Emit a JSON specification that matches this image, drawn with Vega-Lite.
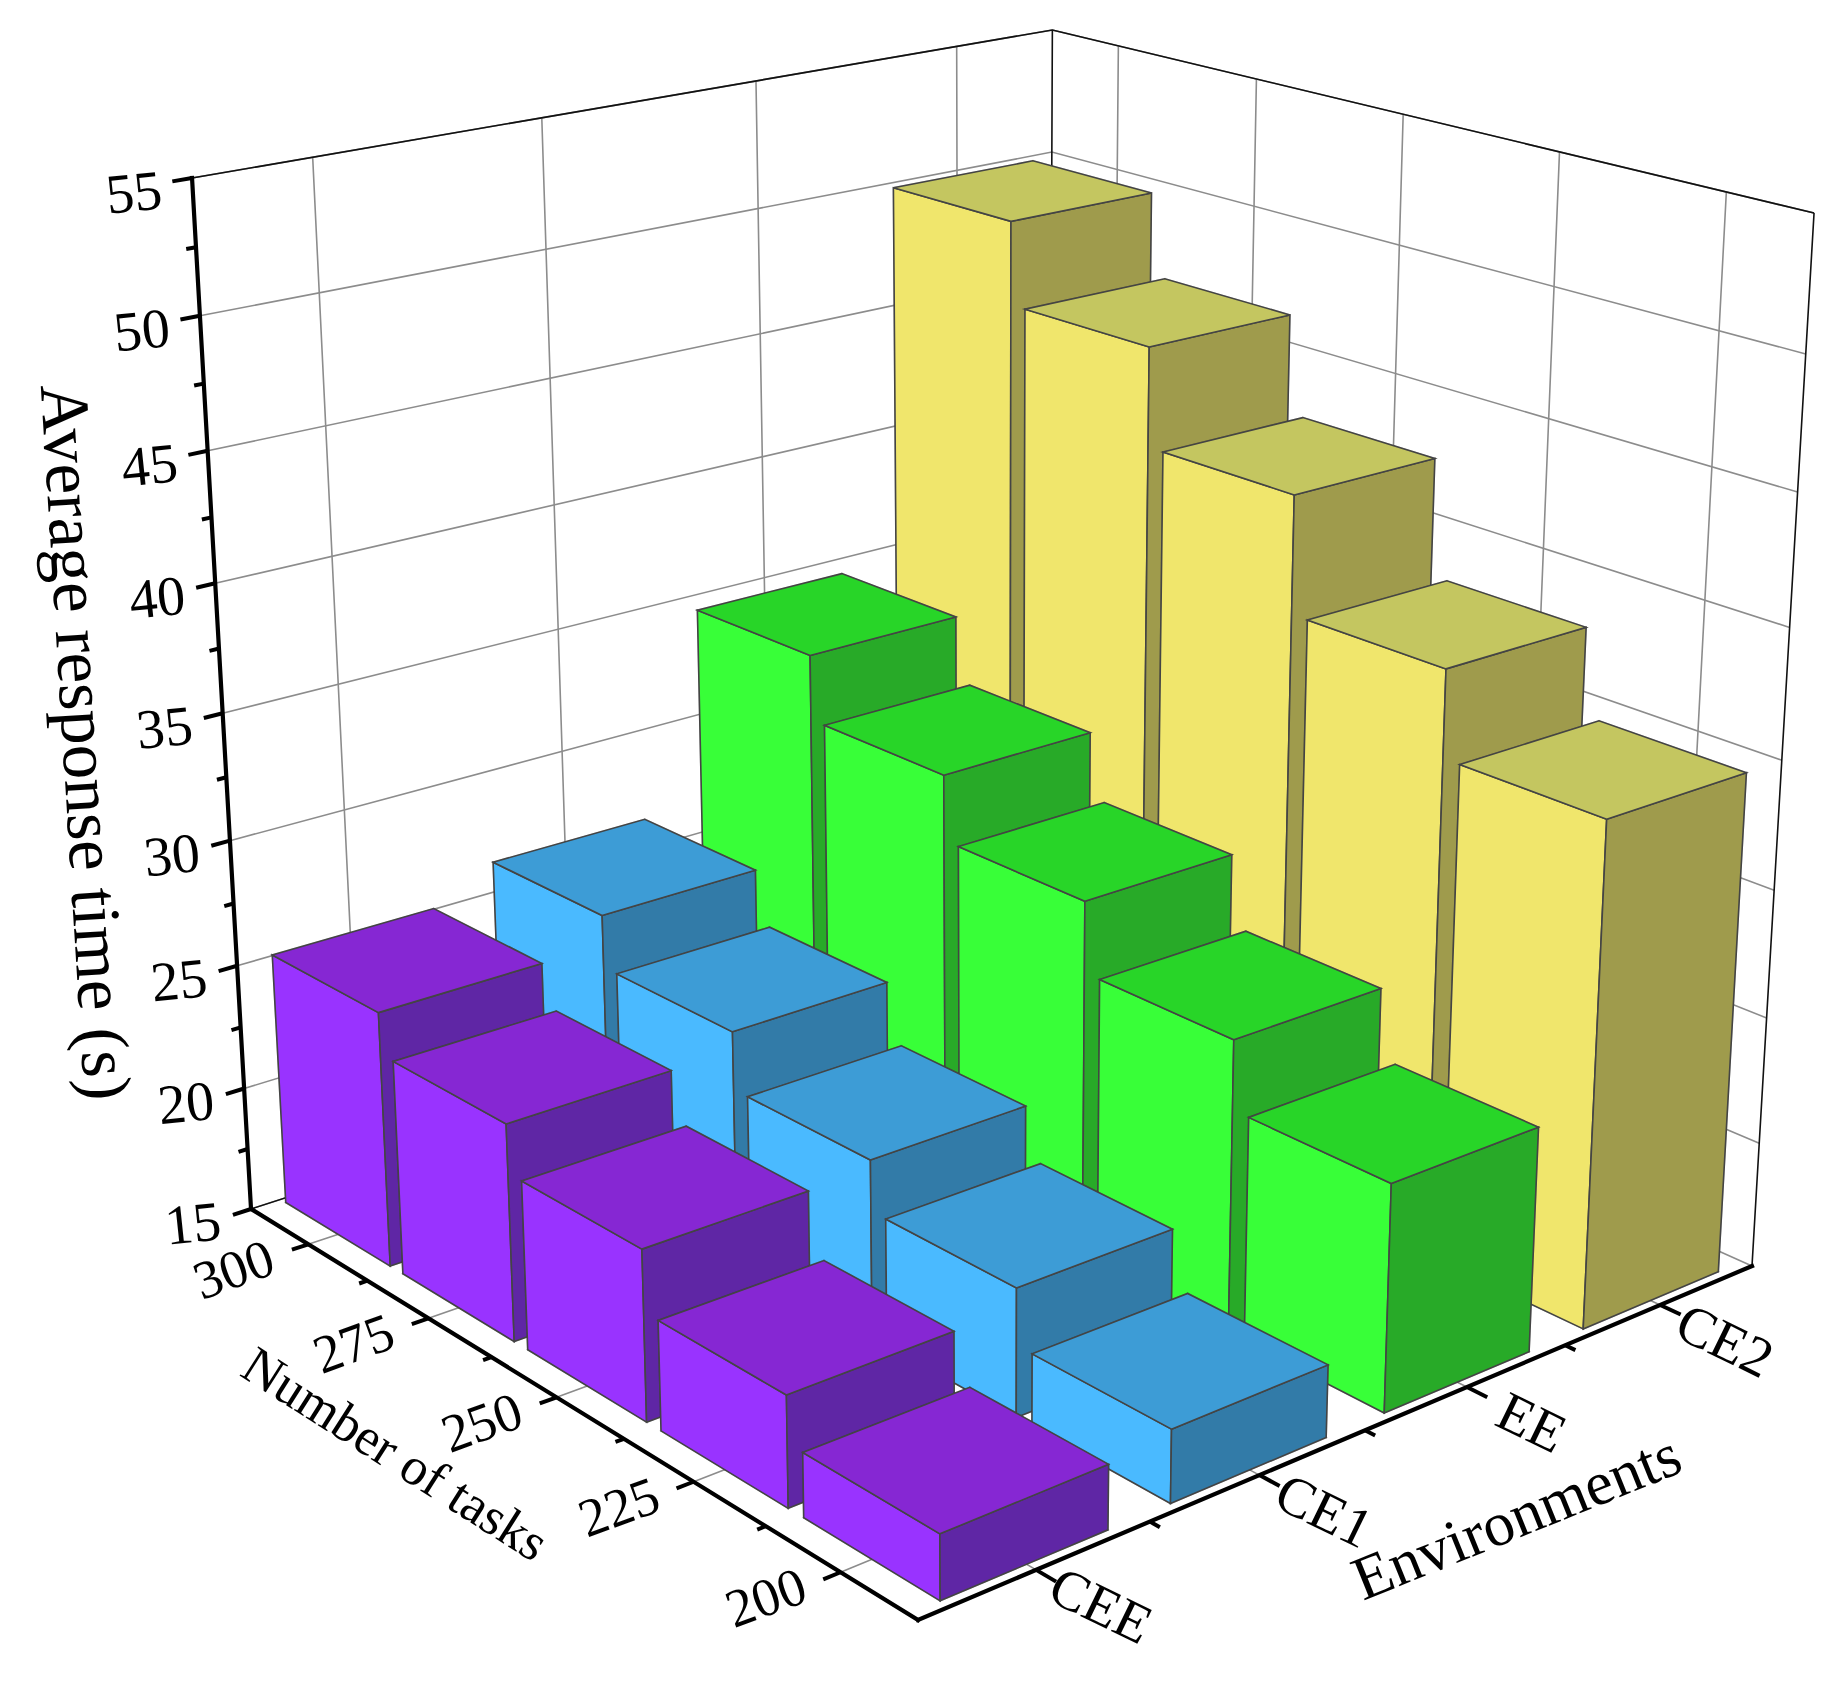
{"$schema":"https://vega.github.io/schema/vega-lite/v6.json","width":1846,"height":1685,"padding":0,"autosize":{"type":"none"},"background":"white","config":{"view":{"stroke":null},"text":{"font":"Liberation Serif","fill":"#000"}},
"datasets":{
"bars":[
{"env":"CE2","tasks":300,"time":49.9},{"env":"CE2","tasks":275,"time":46.6},{"env":"CE2","tasks":250,"time":42.7},{"env":"CE2","tasks":225,"time":38.1},{"env":"CE2","tasks":200,"time":34.7},
{"env":"EE","tasks":300,"time":34.5},{"env":"EE","tasks":275,"time":31.9},{"env":"EE","tasks":250,"time":29.3},{"env":"EE","tasks":225,"time":26.5},{"env":"EE","tasks":200,"time":23.8},
{"env":"CE1","tasks":300,"time":26.4},{"env":"CE1","tasks":275,"time":24.3},{"env":"CE1","tasks":250,"time":22.0},{"env":"CE1","tasks":225,"time":20.0},{"env":"CE1","tasks":200,"time":17.8},
{"env":"CEE","tasks":300,"time":25.2},{"env":"CEE","tasks":275,"time":23.55},{"env":"CEE","tasks":250,"time":21.64},{"env":"CEE","tasks":225,"time":19.25},{"env":"CEE","tasks":200,"time":17.45}],
"ticks":[
{"axis":"time","tick":15,"label":"15","major":true},{"axis":"time","tick":17.5,"major":false},{"axis":"time","tick":20,"label":"20","major":true},{"axis":"time","tick":22.5,"major":false},{"axis":"time","tick":25,"label":"25","major":true},{"axis":"time","tick":27.5,"major":false},{"axis":"time","tick":30,"label":"30","major":true},{"axis":"time","tick":32.5,"major":false},{"axis":"time","tick":35,"label":"35","major":true},{"axis":"time","tick":37.5,"major":false},{"axis":"time","tick":40,"label":"40","major":true},{"axis":"time","tick":42.5,"major":false},{"axis":"time","tick":45,"label":"45","major":true},{"axis":"time","tick":47.5,"major":false},{"axis":"time","tick":50,"label":"50","major":true},{"axis":"time","tick":52.5,"major":false},{"axis":"time","tick":55,"label":"55","major":true},
{"axis":"tasks","tick":200,"label":"200","major":true},{"axis":"tasks","tick":212.5,"major":false},{"axis":"tasks","tick":225,"label":"225","major":true},{"axis":"tasks","tick":237.5,"major":false},{"axis":"tasks","tick":250,"label":"250","major":true},{"axis":"tasks","tick":262.5,"major":false},{"axis":"tasks","tick":275,"label":"275","major":true},{"axis":"tasks","tick":287.5,"major":false},{"axis":"tasks","tick":300,"label":"300","major":true},
{"axis":"env","tick":0,"label":"CEE","major":true},{"axis":"env","tick":0.5,"major":false},{"axis":"env","tick":1,"label":"CE1","major":true},{"axis":"env","tick":1.5,"major":false},{"axis":"env","tick":2,"label":"EE","major":true},{"axis":"env","tick":2.5,"major":false},{"axis":"env","tick":3,"label":"CE2","major":true}],
"frame":[{"axis":"time","tick":55},{"axis":"tasks","tick":312.5},{"axis":"tasks","tick":187.5}],
"axes":[{"axis":"env","tick":-0.5},{"axis":"tasks","tick":187.5}]
},
"layer":[
{"data":{"name":"ticks"},"transform":[{"filter":"datum.major"},
{"calculate":"[0,1,2]","as":"p"},{"flatten":["p"]},
{"calculate":"datum.axis=='env'?(datum.tick+0.5)/4:(datum.p==0?0:1)","as":"a"},
{"calculate":"datum.axis=='env'?(datum.p==0?0:1):datum.axis=='tasks'?(datum.tick-187.5)/125:(datum.p==2?0:1)","as":"b"},
{"calculate":"datum.axis=='time'?(datum.tick-15)/40:(datum.p==2?1:0)","as":"c"},
{"calculate":"(918+1105.9*datum.a-621.1*datum.b-86.5*datum.c)/(1+0.1552*datum.a+0.1828*datum.b-0.0872*datum.c)","as":"X"},
{"calculate":"(1620-157.5*datum.a-190*datum.b-1235*datum.c)/(1+0.1552*datum.a+0.1828*datum.b-0.0872*datum.c)","as":"Y"}],
"mark":{"type":"line","stroke":"#8C8C8C","strokeWidth":1.6},
"encoding":{"x":{"field":"X","type":"quantitative","scale":{"domain":[0,1846],"nice":false,"zero":false},"axis":null},"y":{"field":"Y","type":"quantitative","scale":{"domain":[1685,0],"nice":false,"zero":false},"axis":null},"detail":[{"field":"axis","type":"nominal"},{"field":"tick","type":"nominal"}],"order":{"field":"p","type":"quantitative"}}},
{"data":{"name":"frame"},"transform":[
{"calculate":"[0,1,2]","as":"p"},{"flatten":["p"]},
{"calculate":"datum.axis=='env'?(datum.tick+0.5)/4:(datum.p==0?0:1)","as":"a"},
{"calculate":"datum.axis=='env'?(datum.p==0?0:1):datum.axis=='tasks'?(datum.tick-187.5)/125:(datum.p==2?0:1)","as":"b"},
{"calculate":"datum.axis=='time'?(datum.tick-15)/40:(datum.p==2?1:0)","as":"c"},
{"calculate":"(918+1105.9*datum.a-621.1*datum.b-86.5*datum.c)/(1+0.1552*datum.a+0.1828*datum.b-0.0872*datum.c)","as":"X"},
{"calculate":"(1620-157.5*datum.a-190*datum.b-1235*datum.c)/(1+0.1552*datum.a+0.1828*datum.b-0.0872*datum.c)","as":"Y"}],
"mark":{"type":"line","stroke":"#111111","strokeWidth":1.6},
"encoding":{"x":{"field":"X","type":"quantitative","axis":null},"y":{"field":"Y","type":"quantitative","axis":null},"detail":[{"field":"axis","type":"nominal"},{"field":"tick","type":"nominal"}],"order":{"field":"p","type":"quantitative"}}},
{"data":{"name":"bars"},"transform":[
{"calculate":"[[0,0,1,0,0],[0,1,1,1,0],[0,2,1,1,1],[0,3,1,0,1],[1,0,0,1,0],[1,1,1,1,0],[1,2,1,1,1],[1,3,0,1,1],[2,0,0,0,0],[2,1,1,0,0],[2,2,1,1,0],[2,3,0,1,0],[3,0,0,0,0],[3,1,0,1,0],[3,2,0,1,1],[3,3,0,0,1],[4,0,0,0,0],[4,1,1,0,0],[4,2,1,0,1],[4,3,0,0,1],[5,0,0,0,1],[5,1,1,0,1],[5,2,1,1,1],[5,3,0,1,1]]","as":"v"},{"flatten":["v"]},
{"calculate":"['backA','backB','bottom','left','right','top'][datum.v[0]]","as":"face"},
{"calculate":"datum.env+'|'+datum.face","as":"shade"},
{"calculate":"datum.env+'|'+datum.tasks+'|'+datum.v[0]","as":"poly"},
{"calculate":"datum.v[1]","as":"corner"},
{"calculate":"(indexof(['CEE','CE1','EE','CE2'],datum.env)+0.5)*0.251-0.002+(datum.v[2]*2-1)*0.0905","as":"a"},
{"calculate":"(datum.tasks-187.5)/125+0.0015+(datum.v[3]*2-1)*0.0895","as":"b"},
{"calculate":"datum.v[4]*(datum.time-15)/40","as":"c"},
{"calculate":"(918+1105.9*datum.a-621.1*datum.b-86.5*datum.c)/(1+0.1552*datum.a+0.1828*datum.b-0.0872*datum.c)","as":"X"},
{"calculate":"(1620-157.5*datum.a-190*datum.b-1235*datum.c)/(1+0.1552*datum.a+0.1828*datum.b-0.0872*datum.c)","as":"Y"}],
"mark":{"type":"line","interpolate":"linear-closed","strokeWidth":1.6,"strokeJoin":"miter"},
"encoding":{"x":{"field":"X","type":"quantitative","axis":null},"y":{"field":"Y","type":"quantitative","axis":null},
"detail":{"field":"poly","type":"nominal"},"order":{"field":"corner","type":"quantitative"},
"fill":{"field":"shade","type":"nominal","legend":null,"scale":{"domain":["CEE|backA","CEE|backB","CEE|bottom","CEE|left","CEE|right","CEE|top","CE1|backA","CE1|backB","CE1|bottom","CE1|left","CE1|right","CE1|top","EE|backA","EE|backB","EE|bottom","EE|left","EE|right","EE|top","CE2|backA","CE2|backB","CE2|bottom","CE2|left","CE2|right","CE2|top"],"range":["#5F26A5","#5C0B84","#3A0C70","#9933FF","#5F26A5","#8627D3","#327BA8","#2B608D","#1C5078","#4ABAFF","#327BA8","#3D9CD6","#28AA28","#178917","#0A820A","#38FF38","#28AA28","#28D528","#9F9B4C","#9C6217","#825F19","#F0E66C","#9F9B4C","#C4C660"]}},
"stroke":{"field":"face","type":"nominal","legend":null,"scale":{"domain":["backA","backB","bottom","left","right","top"],"range":["rgba(0,0,0,0.2)","rgba(0,0,0,0.2)","rgba(0,0,0,0.25)","#444444","#444444","#444444"]}},
"opacity":{"field":"face","type":"nominal","legend":null,"scale":{"domain":["backA","backB","bottom","left","right","top"],"range":[1,1,1,1,0.7,0.7]}}}},
{"data":{"name":"axes"},"transform":[
{"calculate":"[0,1,2]","as":"p"},{"flatten":["p"]},{"filter":"datum.axis=='env'||datum.p<2"},
{"calculate":"datum.axis=='env'?(datum.tick+0.5)/4:(datum.p==0?0:1)","as":"a"},
{"calculate":"datum.axis=='env'?(datum.p==0?0:1):(datum.tick-187.5)/125","as":"b"},
{"calculate":"datum.axis=='env'&&datum.p==2?1:0","as":"c"},
{"calculate":"(918+1105.9*datum.a-621.1*datum.b-86.5*datum.c)/(1+0.1552*datum.a+0.1828*datum.b-0.0872*datum.c)","as":"X"},
{"calculate":"(1620-157.5*datum.a-190*datum.b-1235*datum.c)/(1+0.1552*datum.a+0.1828*datum.b-0.0872*datum.c)","as":"Y"}],
"mark":{"type":"line","stroke":"#000","strokeWidth":4.2,"strokeCap":"square"},
"encoding":{"x":{"field":"X","type":"quantitative","axis":null},"y":{"field":"Y","type":"quantitative","axis":null},"detail":{"field":"axis","type":"nominal"},"order":{"field":"p","type":"quantitative"}}},
{"data":{"name":"ticks"},"transform":[
{"calculate":"[0,1]","as":"p"},{"flatten":["p"]},
{"calculate":"datum.major?1:0.5","as":"len"},
{"calculate":"datum.axis=='env'?(datum.tick+0.5)/4:(datum.axis=='time'?-0.02:-0.018)*datum.p*datum.len","as":"a"},
{"calculate":"datum.axis=='env'?-0.025*datum.p*datum.len:datum.axis=='tasks'?(datum.tick-187.5)/125:1","as":"b"},
{"calculate":"datum.axis=='time'?(datum.tick-15)/40:0","as":"c"},
{"calculate":"(918+1105.9*datum.a-621.1*datum.b-86.5*datum.c)/(1+0.1552*datum.a+0.1828*datum.b-0.0872*datum.c)","as":"X"},
{"calculate":"(1620-157.5*datum.a-190*datum.b-1235*datum.c)/(1+0.1552*datum.a+0.1828*datum.b-0.0872*datum.c)","as":"Y"}],
"mark":{"type":"line","stroke":"#000","strokeWidth":4},
"encoding":{"x":{"field":"X","type":"quantitative","axis":null},"y":{"field":"Y","type":"quantitative","axis":null},"detail":[{"field":"axis","type":"nominal"},{"field":"tick","type":"nominal"}],"order":{"field":"p","type":"quantitative"}}},
{"data":{"name":"ticks"},"transform":[{"filter":"datum.axis=='time'&&datum.major"},
{"calculate":"(datum.tick-15)/40","as":"c"},
{"calculate":"(918-621.1-86.5*datum.c)/(1+0.1828-0.0872*datum.c)","as":"X"},
{"calculate":"(1620-190-1235*datum.c)/(1+0.1828-0.0872*datum.c)","as":"Y"}],
"mark":{"type":"text","fontSize":56,"angle":354,"align":"center","baseline":"middle","xOffset":-58,"yOffset":16},
"encoding":{"x":{"field":"X","type":"quantitative","axis":null},"y":{"field":"Y","type":"quantitative","axis":null},"text":{"field":"label"}}},
{"data":{"name":"ticks"},"transform":[{"filter":"datum.axis=='tasks'&&datum.major"},
{"calculate":"(datum.tick-187.5)/125","as":"b"},
{"calculate":"(918-621.1*datum.b)/(1+0.1828*datum.b)","as":"X"},
{"calculate":"(1620-190*datum.b)/(1+0.1828*datum.b)","as":"Y"}],
"mark":{"type":"text","fontSize":54,"angle":340,"align":"center","baseline":"middle","xOffset":-74,"yOffset":27},
"encoding":{"x":{"field":"X","type":"quantitative","axis":null},"y":{"field":"Y","type":"quantitative","axis":null},"text":{"field":"label"}}},
{"data":{"name":"ticks"},"transform":[{"filter":"datum.axis=='env'&&datum.major"},
{"calculate":"(datum.tick+0.5)/4","as":"a"},
{"calculate":"(918+1105.9*datum.a)/(1+0.1552*datum.a)","as":"X"},
{"calculate":"(1620-157.5*datum.a)/(1+0.1552*datum.a)","as":"Y"}],
"mark":{"type":"text","fontSize":56,"angle":26,"align":"center","baseline":"middle","xOffset":64,"yOffset":37},
"encoding":{"x":{"field":"X","type":"quantitative","axis":null},"y":{"field":"Y","type":"quantitative","axis":null},"text":{"field":"label"}}},
{"data":{"values":[{"title":"Average response time (s)"}]},"transform":[
{"calculate":"(918-621.1-43.25)/(1+0.1828-0.0436)","as":"X"},{"calculate":"(1620-190-617.5)/(1+0.1828-0.0436)","as":"Y"}],
"mark":{"type":"text","fontSize":69,"angle":86.5,"align":"center","baseline":"middle","xOffset":-139,"yOffset":29},
"encoding":{"x":{"field":"X","type":"quantitative","axis":null},"y":{"field":"Y","type":"quantitative","axis":null},"text":{"field":"title"}}},
{"data":{"values":[{"title":"Number of tasks"}]},"transform":[
{"calculate":"(918-310.55)/(1+0.0914)","as":"X"},{"calculate":"(1620-95)/(1+0.0914)","as":"Y"}],
"mark":{"type":"text","fontSize":53,"angle":32.5,"align":"center","baseline":"middle","xOffset":-162,"yOffset":58},
"encoding":{"x":{"field":"X","type":"quantitative","axis":null},"y":{"field":"Y","type":"quantitative","axis":null},"text":{"field":"title"}}},
{"data":{"values":[{"title":"Environments"}]},"transform":[
{"calculate":"(918+552.95)/(1+0.0776)","as":"X"},{"calculate":"(1620-78.75)/(1+0.0776)","as":"Y"}],
"mark":{"type":"text","fontSize":62,"angle":338,"align":"center","baseline":"middle","xOffset":152,"yOffset":88},
"encoding":{"x":{"field":"X","type":"quantitative","axis":null},"y":{"field":"Y","type":"quantitative","axis":null},"text":{"field":"title"}}}
]}
